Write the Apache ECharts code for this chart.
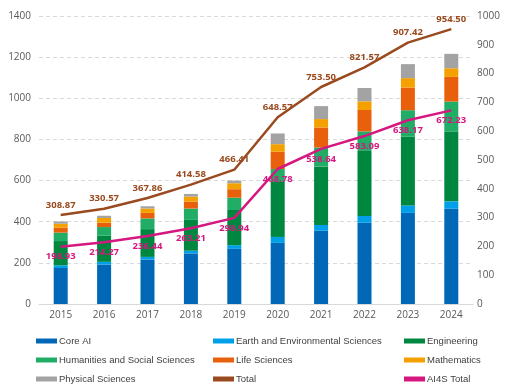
<!DOCTYPE html>
<html>
<head>
<meta charset="utf-8">
<script src="https://cdn.jsdelivr.net/npm/echarts@6/dist/echarts.min.js"></script>
<style>html,body{margin:0;padding:0;background:#fff}#c{width:505px;height:392px}</style>
</head>
<body>
<div id="c"></div>
<script>
const years = ['2015','2016','2017','2018','2019','2020','2021','2022','2023','2024'];
const coreAI      = [175, 192, 216, 246, 268, 297, 356, 395, 443, 463];
const earthEnv    = [13, 13, 13, 13, 18, 29, 28, 33, 36, 36];
const engineering = [118, 127, 135, 150, 171, 267, 284, 320, 334, 339];
const humanities  = [41, 42, 52, 55, 60, 63, 93, 91, 129, 146];
const lifeSci     = [24, 21, 27, 34, 41, 84, 97, 104, 110, 120];
const mathematics = [19, 23, 21, 24, 29, 37, 41, 42, 46, 42];
const physical    = [11, 11, 11, 13, 13, 52, 63, 65, 68, 70];
const total       = [308.87, 330.57, 367.86, 414.58, 466.41, 648.57, 753.50, 821.57, 907.42, 954.50];
const ai4sTotal   = [198.93, 214.27, 236.44, 263.21, 298.94, 468.78, 538.64, 583.09, 638.17, 672.23];
const leftTicks = {min: 0, max: 1400, interval: 200};
const rightTicks = {min: 0, max: 1000, interval: 100};

const colors = {
  core: '#0068B7', earth: '#00A0E9', eng: '#00873F', hum: '#22AD66',
  life: '#E8600C', math: '#F4A100', phys: '#A3A3A3', total: '#9A4A1F', ai4s: '#D6177F'
};
const axisFont = "'Open Sans', 'Noto Sans', sans-serif";
const legendFont = "'Liberation Sans Narrow', 'Arial Narrow', 'Liberation Sans', sans-serif";

function bar(name, data, color) {
  return {name, type: 'bar', stack: 'fields', data, barWidth: 14, yAxisIndex: 0,
    itemStyle: {color}, emphasis: {disabled: true}};
}
function line(name, data, color, pos) {
  return {name, type: 'line', data, yAxisIndex: 1, symbol: 'circle', symbolSize: 0.1, showSymbol: true, z: 5,
    lineStyle: {color, width: 2.5}, itemStyle: {color},
    label: {show: true, position: pos, distance: 5, color, fontSize: 9.5, fontWeight: 'bold',
      fontFamily: axisFont, formatter: p => Number(p.value).toFixed(2)}};
}
const legendBase = {orient: 'vertical', icon: 'rect', itemWidth: 21, itemHeight: 5, itemGap: 9, padding: 0,
  top: 336, textStyle: {fontSize: 9.5, color: '#404040', fontFamily: legendFont, padding: [0,0,0,-3]}};

const chart = echarts.init(document.getElementById('c'));
chart.setOption({
  animation: false,
  grid: {left: 39, right: 32, top: 16, bottom: 88},
  legend: [
    Object.assign({}, legendBase, {left: 36, data: ['Core AI', 'Humanities and Social Sciences', 'Physical Sciences']}),
    Object.assign({}, legendBase, {left: 213, data: ['Earth and Environmental Sciences', 'Life Sciences', 'Total']}),
    Object.assign({}, legendBase, {left: 404, data: ['Engineering', 'Mathematics', 'AI4S Total']})
  ],
  xAxis: {type: 'category', data: years,
    axisLine: {lineStyle: {color: '#D9D9D9'}}, axisTick: {show: false},
    axisLabel: {color: '#595959', fontSize: 10, fontFamily: axisFont, margin: 6}},
  yAxis: [
    Object.assign({type: 'value', axisLine: {show: false}, axisTick: {show: false},
      axisLabel: {color: '#595959', fontSize: 10, fontFamily: axisFont, margin: 8, formatter: v => String(v)},
      splitLine: {lineStyle: {color: '#D9D9D9', type: [4, 3]}}}, leftTicks),
    Object.assign({type: 'value', position: 'right', axisLine: {show: false}, axisTick: {show: false},
      axisLabel: {color: '#595959', fontSize: 10, fontFamily: axisFont, margin: 4, formatter: v => String(v)},
      splitLine: {show: false}}, rightTicks)
  ],
  series: [
    bar('Core AI', coreAI, colors.core),
    bar('Earth and Environmental Sciences', earthEnv, colors.earth),
    bar('Engineering', engineering, colors.eng),
    bar('Humanities and Social Sciences', humanities, colors.hum),
    bar('Life Sciences', lifeSci, colors.life),
    bar('Mathematics', mathematics, colors.math),
    bar('Physical Sciences', physical, colors.phys),
    line('Total', total, colors.total, 'top'),
    line('AI4S Total', ai4sTotal, colors.ai4s, 'bottom')
  ]
});
</script>
</body>
</html>
